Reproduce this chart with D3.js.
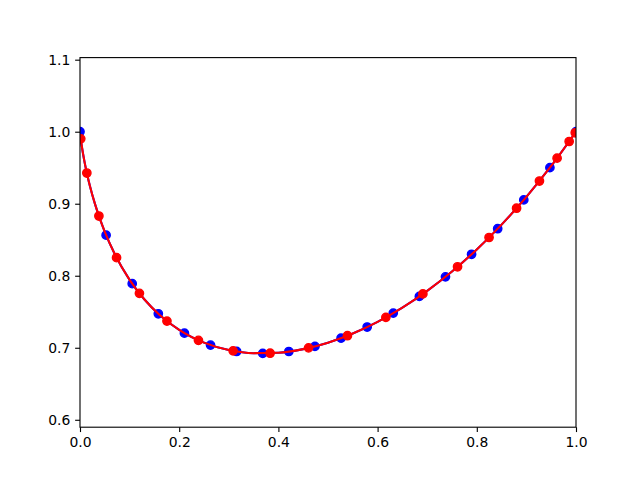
<!DOCTYPE html>
<html><head><meta charset="utf-8">
<script src="https://cdn.jsdelivr.net/npm/d3@7"></script>
<style>html,body{margin:0;padding:0;background:#fff;}svg{display:block;}</style>
</head><body>
<script>
// sample points (markers)
const blueX = [0.0, 0.05263, 0.10526, 0.15789, 0.21053, 0.26316, 0.31579, 0.36842, 0.42105, 0.47368,
  0.52632, 0.57895, 0.63158, 0.68421, 0.73684, 0.78947, 0.84211, 0.89474, 0.94737, 1.0];
const blueY = [1.0, 0.8564, 0.7890, 0.7472, 0.7203, 0.7037, 0.6949, 0.6922, 0.6948, 0.7019,
  0.7133, 0.7288, 0.7481, 0.7713, 0.7985, 0.8298, 0.8653, 0.9053, 0.9501, 1.0];
const redX = [0.00154, 0.0138, 0.0381, 0.0737, 0.1198, 0.1753, 0.2388, 0.3087, 0.3833, 0.4608,
  0.5392, 0.6167, 0.6913, 0.7612, 0.8247, 0.8802, 0.9263, 0.9619, 0.9862, 0.99846];
const redY = [0.9901, 0.9426, 0.8829, 0.8251, 0.7756, 0.7370, 0.7103, 0.6957, 0.6924, 0.6998,
  0.7167, 0.7422, 0.7748, 0.8124, 0.8531, 0.8938, 0.9315, 0.9633, 0.9864, 0.9985];
// curves (lines)
const curveX = [0, 0.0005, 0.001, 0.002, 0.004, 0.007, 0.01, 0.015, 0.02, 0.03, 0.04, 0.05, 0.07, 0.1,
  0.13, 0.16, 0.2, 0.25, 0.3, 0.35, 0.4, 0.45, 0.5, 0.55, 0.6, 0.65, 0.7, 0.75, 0.8, 0.85, 0.9, 0.95, 1.0];
const blueCurveY = [1.0, 0.9962, 0.9931, 0.9876, 0.9782, 0.9659, 0.9550, 0.9389, 0.9247, 0.9001, 0.8792,
  0.8609, 0.8302, 0.7943, 0.7670, 0.7459, 0.7248, 0.7071, 0.6968, 0.6925, 0.6931, 0.6981, 0.7071,
  0.7198, 0.7360, 0.7558, 0.7791, 0.8059, 0.8365, 0.8710, 0.9095, 0.9524, 1.0];
const redCurveY = [0.9960, 0.9950, 0.9935, 0.9880, 0.9784, 0.9660, 0.9550, 0.9389, 0.9247, 0.9001, 0.8792,
  0.8609, 0.8302, 0.7943, 0.7670, 0.7459, 0.7248, 0.7071, 0.6968, 0.6925, 0.6931, 0.6981, 0.7071,
  0.7198, 0.7360, 0.7558, 0.7791, 0.8059, 0.8365, 0.8710, 0.9095, 0.9524, 1.0];
const xTicks = [0.0, 0.2, 0.4, 0.6, 0.8, 1.0];
const yTicks = [0.6, 0.7, 0.8, 0.9, 1.0, 1.1];

const W = 640, H = 480;
const L = 80, R = 576, T = 57.6, B = 427.2;
const svg = d3.select("body").append("svg").attr("width", W).attr("height", H);
const x = d3.scaleLinear().domain([0, 1]).range([L, R]);
const y = d3.scaleLinear().domain([0.5897, 1.1029]).range([B, T]);

svg.append("defs").append("clipPath").attr("id", "clip")
  .append("rect").attr("x", L).attr("y", T).attr("width", R - L).attr("height", B - T);
const g = svg.append("g").attr("clip-path", "url(#clip)");

const line = d3.line().x(d => x(d[0])).y(d => y(d[1])).curve(d3.curveMonotoneX);
function series(cx, cy, xs, ys, color) {
  g.append("path").datum(cx.map((v, i) => [v, cy[i]]))
    .attr("d", line)
    .attr("fill", "none").attr("stroke", color).attr("stroke-width", 2.08)
    .attr("stroke-linejoin", "round");
  g.selectAll(null).data(xs.map((v, i) => [v, ys[i]])).enter().append("circle")
    .attr("cx", d => x(d[0])).attr("cy", d => y(d[1])).attr("r", 4.17)
    .attr("fill", color).attr("stroke", color).attr("stroke-width", 1.39);
}
series(curveX, blueCurveY, blueX, blueY, "#0000ff");
series(curveX, redCurveY, redX, redY, "#ff0000");

const font = "DejaVu Sans";
const xa = svg.append("g").attr("transform", `translate(0,${B})`)
  .call(d3.axisBottom(x).tickValues(xTicks).tickFormat(d3.format(".1f")).tickSize(4.86).tickPadding(4.9));
const ya = svg.append("g").attr("transform", `translate(${L},0)`)
  .call(d3.axisLeft(y).tickValues(yTicks).tickFormat(d3.format(".1f")).tickSize(4.86).tickPadding(4.9));
[xa, ya].forEach(a => {
  a.select(".domain").remove();
  a.selectAll(".tick line").attr("stroke", "#000").attr("stroke-width", 1.11);
  a.selectAll(".tick text").attr("font-family", font).attr("font-size", "13.9px").attr("fill", "#000");
});
svg.append("rect").attr("x", L).attr("y", T).attr("width", R - L).attr("height", B - T)
  .attr("fill", "none").attr("stroke", "#000").attr("stroke-width", 1.11);
</script>
</body></html>
